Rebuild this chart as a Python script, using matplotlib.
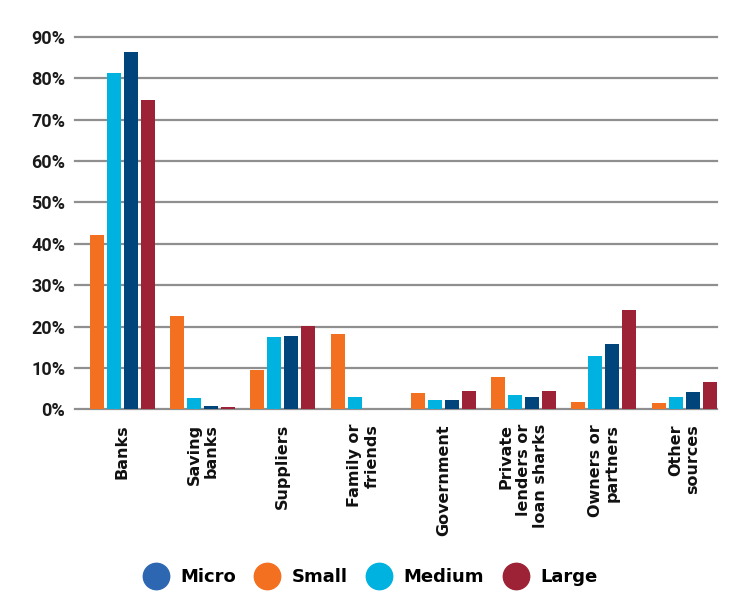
import matplotlib
matplotlib.use('Agg')
import matplotlib.pyplot as plt
from matplotlib.lines import Line2D
import numpy as np

# Data (share of firms, %)
categories = ['Banks', 'Saving\nbanks', 'Suppliers', 'Family or\nfriends', 'Government',
              'Private\nlenders or\nloan sharks', 'Owners or\npartners', 'Other\nsources']
series_1 = [42.1, 22.6, 9.4, 18.1, 3.9, 7.8, 1.8, 1.5]     # orange bars
series_2 = [81.3, 2.8, 17.4, 3.0, 2.2, 3.4, 12.8, 3.0]     # cyan bars
series_3 = [86.2, 0.9, 17.6, 0.0, 2.2, 3.0, 15.9, 4.2]     # navy bars
series_4 = [74.6, 0.6, 20.2, 0.0, 4.4, 4.4, 24.1, 6.6]     # red bars
legend_labels = ['Micro', 'Small', 'Medium', 'Large']
y_ticks = [0, 10, 20, 30, 40, 50, 60, 70, 80, 90]

bar_colors = ['#f37021', '#00b2e0', '#00447c', '#9d2235']
legend_colors = ['#2e67b1', '#f37021', '#00b2e0', '#9d2235']
grid_color = '#8f8f8f'

fig = plt.figure(figsize=(7.35, 5.92), dpi=100)
ax = fig.add_axes([75 / 735, 0.305, 642 / 735, 0.640])

x = np.arange(len(categories))
pitch = 0.212
width = 0.175
for i, vals in enumerate([series_1, series_2, series_3, series_4]):
    ax.bar(x + (i - 1.5) * pitch, vals, width=width, color=bar_colors[i], zorder=3)

for t in y_ticks:
    ax.axhline(t, color=grid_color, linewidth=1.6, zorder=1, clip_on=False)

ax.set_xlim(-0.59, 7.41)
ax.set_ylim(-0.5, 91)
ax.set_yticks(y_ticks)
ax.set_yticklabels([f'{t}%' for t in y_ticks], fontsize=13, fontweight='bold',
                   family=['Roboto', 'DejaVu Sans'], color='#1a1a1a')
ax.tick_params(axis='y', length=0, pad=7)
ax.set_xticks(x)
ax.set_xticklabels(categories, rotation=90, fontsize=11.5, fontweight='bold',
                   family='DejaVu Sans', ha='center', va='top', color='#111111',
                   multialignment='right', linespacing=1.2)
ax.tick_params(axis='x', length=0, pad=9)
for s in ax.spines.values():
    s.set_visible(False)

handles = [Line2D([], [], marker='o', linestyle='none', markersize=19,
                  markerfacecolor=c, markeredgecolor=c) for c in legend_colors]
fig.legend(handles, legend_labels, loc='center', bbox_to_anchor=(0.503, 0.025), ncol=4,
           frameon=False, handlelength=1.5, handletextpad=0.6, columnspacing=1.0,
           prop={'family': 'DejaVu Sans', 'weight': 'bold', 'size': 13})

fig.savefig('out.png', dpi=100)
